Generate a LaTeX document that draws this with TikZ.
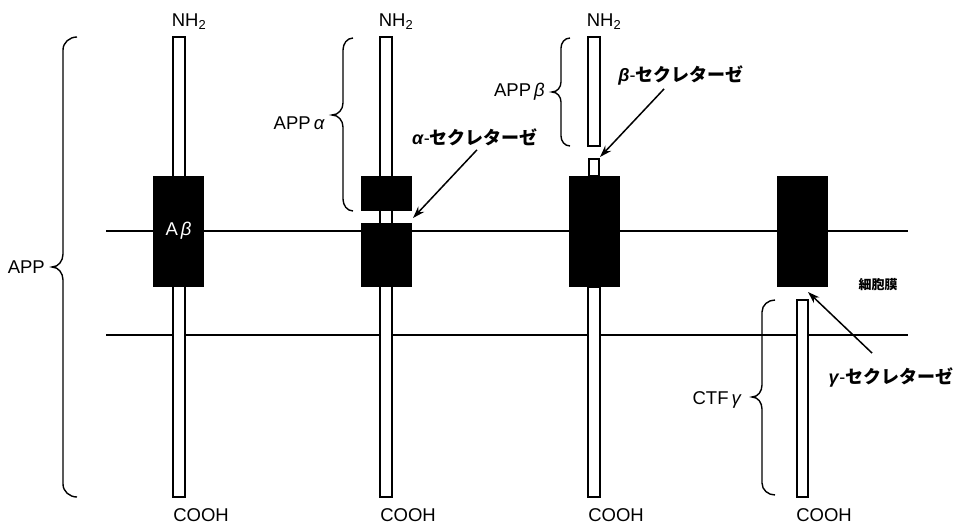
\documentclass[tikz,border=0pt]{standalone}
\usepackage{fontspec}
\setmainfont{Liberation Sans}
\newfontfamily\jp{Noto Sans CJK JP}
\usetikzlibrary{arrows.meta}
\begin{document}
\begin{tikzpicture}[x=1pt,y=-1pt,
  lbl/.style={font=\fontsize{18.5}{20}\selectfont, inner sep=0pt},
  jlbl/.style={font=\fontsize{18}{20}\selectfont, inner sep=0pt},
  bar/.style={draw=black, fill=white, line width=1.9pt},
  blk/.style={fill=black},
  mem/.style={line width=1.9pt},
  brc/.style={line width=1.4pt},
  arr/.style={line width=1.5pt, -{Stealth[length=12pt,width=8pt]}}]
\useasboundingbox (0,0) rectangle (960,524);
% membrane lines
\draw[mem] (106,231) -- (908,231);
\draw[mem] (106,335) -- (908,335);
% column 1
\draw[bar] (173,37) rectangle (185,497);
\fill[blk] (153,176) rectangle (204,287);
\node[lbl, text=white] (abeta) at (178.5,231) {A\,\textit{β}};
% column 2
\draw[bar] (380,37) rectangle (392,497);
\fill[blk] (361,176) rectangle (412,211);
\fill[blk] (361,223) rectangle (412,287);
% column 3
\draw[bar] (588,37) rectangle (600,146);
\draw[bar] (589,159) rectangle (599,176);
\fill[blk] (569,176) rectangle (620,287);
\draw[bar] (588,287) rectangle (600,497);
% column 4
\fill[blk] (777,176) rectangle (828,287);
\draw[bar] (797,300) rectangle (808,497);
% NH2 / COOH
\foreach \x/\n in {189/1,396/2,604/3} {
  \node[lbl] (nh\n) at (\x,22) {NH\textsubscript{2}};
}
\foreach \x/\n in {201/1,408/2,616/3,824/4} {
  \node[lbl] (cooh\n) at (\x,515) {COOH};
}
% braces
\draw[brc] (77,37) to[out=180,in=90] (63,50) -- (63,254) to[out=-90,in=0] (52,267)
  to[out=0,in=90] (63,280) -- (63,484) to[out=-90,in=180] (77,497);
\node[lbl, anchor=east] (app) at (45,267) {APP};
\draw[brc] (353,38) to[out=180,in=90] (343,50) -- (343,103) to[out=-90,in=0] (332,115)
  to[out=0,in=90] (343,127) -- (343,199) to[out=-90,in=180] (353,211);
\node[lbl, anchor=east] (appa) at (325,123) {APP\,\textit{α}};
\draw[brc] (570,38) to[out=180,in=90] (561,48) -- (561,82) to[out=-90,in=0] (552,92)
  to[out=0,in=90] (561,102) -- (561,136) to[out=-90,in=180] (570,146);
\node[lbl, anchor=east] (appb) at (545,92) {APP\,\textit{β}};
\draw[brc] (775,300) to[out=180,in=90] (762,312) -- (762,385) to[out=-90,in=0] (752,397)
  to[out=0,in=90] (762,409) -- (762,483) to[out=-90,in=180] (775,495);
\node[lbl, anchor=east] (ctf) at (742,400) {CTF\,\textit{γ}};
% secretase labels
\node[jlbl] (asec) at (475,137) {\textbf{\textit{α}}-{\jp\bfseries セクレターゼ}};
\node[jlbl] (bsec) at (681,75) {\textbf{\textit{β}}-{\jp\bfseries セクレターゼ}};
\node[jlbl] (gsec) at (891,377) {\textbf{\textit{γ}}-{\jp\bfseries セクレターゼ}};
\node[inner sep=0pt, font=\fontsize{13}{15}\selectfont] (memb) at (878,285) {{\jp\bfseries 細胞膜}};
\coordinate (acut) at (413,218);
\coordinate (bcut) at (600,157);
\coordinate (gcut) at (808,292);
\draw[arr] ([xshift=2pt,yshift=-4pt]asec.south) -- (acut);
\draw[arr] ([xshift=-17pt,yshift=-4pt]bsec.south) -- (bcut);
\draw[arr] ([xshift=-19pt,yshift=14pt]gsec.north) -- (gcut);
\end{tikzpicture}
\end{document}
